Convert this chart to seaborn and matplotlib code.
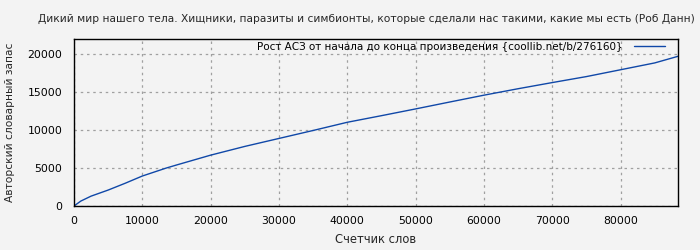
import matplotlib
matplotlib.use("Agg")
import matplotlib.pyplot as plt
import seaborn as sns
import pandas as pd

words = [0, 1000, 2500, 5000, 7500, 10000, 13500, 15000, 20000, 25000, 30000, 35000,
         40000, 45000, 50000, 55000, 60000, 65000, 70000, 75000, 80000, 85000, 88400]
vocab = [0, 650, 1300, 2100, 3000, 3950, 5000, 5400, 6700, 7850, 8900, 9950,
         11030, 11900, 12790, 13700, 14600, 15450, 16260, 17050, 17950, 18850, 19720]
series_label = "Рост АСЗ от начала до конца произведения {coollib.net/b/276160}"
title = "Дикий мир нашего тела. Хищники, паразиты и симбионты, которые сделали нас такими, какие мы есть (Роб Данн)"
xlabel = "Счетчик слов"
ylabel = "Авторский словарный запас"

df = pd.DataFrame({"x": words, "y": vocab})

sns.set_style("white")
plt.rcParams['font.family'] = ['DejaVu Sans']
bg = "#f3f3f3"
fig = plt.figure(figsize=(7, 2.5), dpi=100, facecolor=bg)
ax = fig.add_axes([74/700, 1 - 206/250, (678 - 74)/700, (206 - 39)/250])
ax.set_facecolor(bg)

sns.lineplot(data=df, x="x", y="y", ax=ax, color="#1048a8", linewidth=1.0, label=series_label)

ax.set_xlim(0, 88400)
ax.set_ylim(0, 22000)
ax.set_xticks([0, 10000, 20000, 30000, 40000, 50000, 60000, 70000, 80000])
ax.set_yticks([0, 5000, 10000, 15000, 20000])
ax.grid(True, linestyle=(0, (2, 3)), color="#a0a0a0", linewidth=0.9)
for s in ax.spines.values():
    s.set_color("black")
    s.set_linewidth(1.0)
    s.set_visible(True)
ax.tick_params(direction="in", length=0, labelsize=7.8, colors="black")
ax.tick_params(axis="y", pad=8.5)
ax.tick_params(axis="x", pad=7.5)
ax.set_xlabel(xlabel, fontsize=8.3, labelpad=5)
ax.set_ylabel(ylabel, fontsize=7.7, labelpad=9)

leg = ax.legend(loc="center right", bbox_to_anchor=(1 - 13/604, 1 - 7.7/167),
                frameon=False, markerfirst=False, fontsize=7.5,
                handlelength=3.0, borderaxespad=0.0, borderpad=0.0, handletextpad=1.05)
for t in leg.get_texts():
    t.set_color("black")

fig.text(366/700, 1 - 19/250, title, ha="center", va="center", fontsize=7.65)

fig.savefig("out.png", dpi=100, facecolor=bg)
